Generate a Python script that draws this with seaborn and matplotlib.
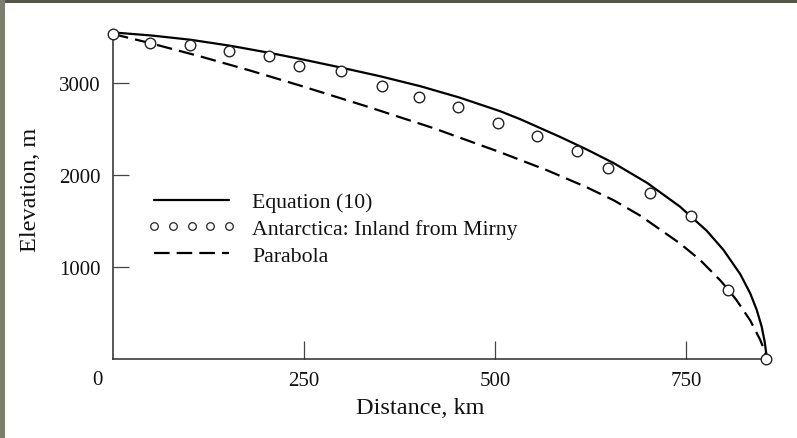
import numpy as np
import pandas as pd
import matplotlib
matplotlib.use("Agg")
import matplotlib.pyplot as plt
from matplotlib.lines import Line2D
from matplotlib.patches import Rectangle
import seaborn as sns

# ---- data ----
eq_km = [0, 50, 101, 153, 205, 245, 298, 350, 402, 454, 507, 533, 585, 620, 655,
         699, 742, 777, 799, 821, 834, 842.5, 849, 853, 856]
eq_elev = [3550, 3517, 3471, 3406, 3328, 3262, 3169, 3073, 2966, 2841, 2693, 2607,
           2415, 2278, 2131, 1915, 1657, 1395, 1186, 922, 714, 535, 353, 185, 0]

par_km = [0, 48, 114, 179, 245, 332, 419, 506, 568, 620, 655, 690, 742, 768, 795,
          805, 816, 834, 847, 853, 856]
par_elev = [3533, 3435, 3290, 3137, 2972, 2746, 2511, 2250, 2052, 1867, 1727, 1559,
            1257, 1080, 853, 757, 641, 420, 210, 85, 0]

obs_km = [0, 48, 101, 152, 204, 244, 298, 352, 401, 452, 504, 555, 607, 648,
          703, 757, 805, 855]
obs_elev = [3533, 3435, 3413, 3348, 3293, 3185, 3130, 2967, 2848, 2739, 2565,
            2424, 2261, 2076, 1804, 1554, 750, 0]

x_ticks = [250, 500, 750]
y_ticks = [1000, 2000, 3000]
labels = ["Equation (10)", "Antarctica: Inland from Mirny", "Parabola"]

# ---- style ----
sns.set_style("ticks")
plt.rcParams["font.family"] = ["Liberation Serif", "DejaVu Serif"]

W, H = 797, 439
fig = plt.figure(figsize=(W / 100, H / 100), dpi=100)
fig.patch.set_facecolor("white")

ax = fig.add_axes([113 / W, (H - 360) / H, (767 - 113) / W, (360 - 35) / H])
ax.set_facecolor("white")

sns.lineplot(x=eq_km, y=eq_elev, ax=ax, color="black", lw=1.6, clip_on=False,
             sort=False, zorder=3)
sns.lineplot(x=par_km, y=par_elev, ax=ax, color="black", lw=1.6, clip_on=False,
             sort=False, zorder=3)
ax.lines[-1].set_dashes([7, 3.2])
for ln in ax.lines:
    ln.set_solid_joinstyle("round")
    ln.set_dash_joinstyle("round")
sns.scatterplot(x=obs_km, y=obs_elev, ax=ax, s=58, facecolor="white",
                edgecolor="#222222", linewidth=1.0, zorder=5, clip_on=False)

ax.set_xlim(0, 856)
ax.set_ylim(0, 3533)
ax.set_xticks(x_ticks)
ax.set_yticks(y_ticks)
ax.set_xticklabels([str(v) for v in x_ticks])
ax.set_yticklabels([str(v) for v in y_ticks])

for s in ["top", "right"]:
    ax.spines[s].set_visible(False)
for s in ["left", "bottom"]:
    ax.spines[s].set_color("#2a2a2a")
    ax.spines[s].set_linewidth(1.1)

ax.tick_params(axis="x", direction="in", length=13, width=0.9, color="#444444",
               labelsize=15, pad=9, labelcolor="#111111")
ax.tick_params(axis="y", direction="in", length=11.5, width=0.9, color="#444444",
               labelsize=15, pad=9, labelcolor="#111111")

ax.annotate("0", xy=(0, 0), xycoords="data", xytext=(-16, -21),
            textcoords="offset pixels", ha="center", va="center",
            fontsize=15, color="#111111")

ax.set_xlabel("Distance, km", fontsize=17.5, color="#111111")
ax.set_ylabel("Elevation, m", fontsize=17.5, color="#111111")
ax.xaxis.set_label_coords((420 - 113) / 654, -38 / 325)
ax.yaxis.set_label_coords((41 - 113) / 654, (360 - 190) / 325)

handles = [
    Line2D([], [], color="black", lw=1.6),
    Line2D([], [], marker="o", ls="none", mfc="white", mec="#222222", ms=5.5, mew=0.9),
    Line2D([], [], color="black", lw=1.6, dashes=[7, 3.2]),
]
FS = 15.7
F = FS * 100 / 72
leg = ax.legend(handles, labels, loc="upper left",
                bbox_to_anchor=(147 / W, 1 - 193 / H), bbox_transform=fig.transFigure,
                frameon=False, fontsize=FS, handlelength=89 / F,
                handletextpad=16 / F, labelspacing=0.3, borderpad=0,
                borderaxespad=0, numpoints=5)
for t in leg.get_texts():
    t.set_color("#111111")

# dark frame strips of the scanned page
fig.patches.append(Rectangle((0, 1 - 4 / H), 1, 4 / H, transform=fig.transFigure,
                             facecolor="#56564a", edgecolor="none", zorder=10))
fig.patches.append(Rectangle((0, 0), 5 / W, 1, transform=fig.transFigure,
                             facecolor="#7f7d6d", edgecolor="none", zorder=10))

fig.savefig("out.png", dpi=100)
